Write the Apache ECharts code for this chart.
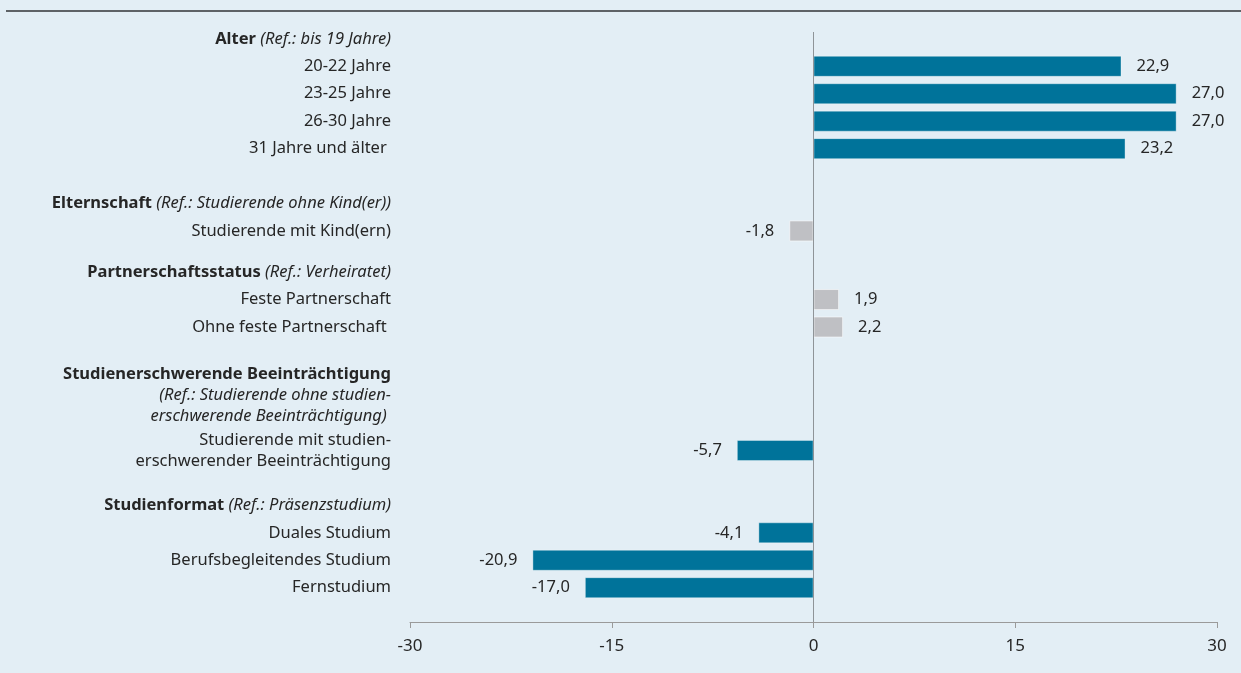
<!DOCTYPE html>
<html lang="de">
<head>
<meta charset="utf-8">
<title>Einflussfaktoren</title>
<script src="https://cdn.jsdelivr.net/npm/echarts@6/dist/echarts.min.js"></script>
<style>
  html, body { margin: 0; padding: 0; background: #e3eef5; }
  #chart { width: 1241px; height: 673px; }
</style>
</head>
<body>
<div id="chart"></div>
<script>
// Category rows of the y axis (top to bottom); empty entries are spacer rows.
const categories = [
  'Alter', '', '20-22 Jahre', '', '23-25 Jahre', '', '26-30 Jahre', '', '31 Jahre und älter ', '', '', '',
  'Elternschaft', '', 'Studierende mit Kind(ern)', '', '',
  'Partnerschaftsstatus', '', 'Feste Partnerschaft', '', 'Ohne feste Partnerschaft ', '', '', '', '',
  'Studienerschwerende Beeinträchtigung', '', '', '', 'Studierende mit studien-\nerschwerender Beeinträchtigung', '', '', '',
  'Studienformat', '', 'Duales Studium', '', 'Berufsbegleitendes Studium', '', 'Fernstudium', '', ''
];

// Group headings and their reference categories
const groupTitles = ['Alter', 'Elternschaft', 'Partnerschaftsstatus', 'Studienerschwerende Beeinträchtigung', 'Studienformat'];
const groupRefs = [
  '(Ref.: bis 19 Jahre)',
  '(Ref.: Studierende ohne Kind(er))',
  '(Ref.: Verheiratet)',
  '(Ref.: Studierende ohne studien-\nerschwerende Beeinträchtigung) ',
  '(Ref.: Präsenzstudium)'
];

// Effects per item
const itemLabels = [
  '20-22 Jahre', '23-25 Jahre', '26-30 Jahre', '31 Jahre und älter ',
  'Studierende mit Kind(ern)',
  'Feste Partnerschaft', 'Ohne feste Partnerschaft ',
  'Studierende mit studien-\nerschwerender Beeinträchtigung',
  'Duales Studium', 'Berufsbegleitendes Studium', 'Fernstudium'
];
const itemValues = [22.9, 27.0, 27.0, 23.2, -1.8, 1.9, 2.2, -5.7, -4.1, -20.9, -17.0];
const itemSignificant = [true, true, true, true, false, false, false, true, true, true, true];

// x axis ticks
const xMin = -30, xMax = 30, xStep = 15;

const BLUE = '#00739a';
const GREY = '#bfc0c4';
const INK = '#262626';
const FONT = 'Noto Sans';
const FS = 16.5;

const fmt = v => v.toFixed(1).replace('.', ',');

const barData = categories.map(c => {
  const k = itemLabels.indexOf(c);
  if (c === '' || k < 0) return null;
  const v = itemValues[k];
  const sig = itemSignificant[k];
  return {
    value: v,
    itemStyle: {
      color: sig ? BLUE : GREY,
      borderColor: sig ? 'rgba(255,255,255,0.35)' : 'rgba(255,255,255,0.55)',
      borderWidth: 1
    },
    label: { position: v < 0 ? 'left' : 'right' }
  };
});

const chart = echarts.init(document.getElementById('chart'), null, { renderer: 'canvas' });

chart.setOption({
  backgroundColor: '#e3eef5',
  animation: false,
  textStyle: { fontFamily: FONT },
  graphic: [{
    type: 'line',
    shape: { x1: 6, y1: 11, x2: 1241, y2: 11 },
    style: { stroke: '#5e6266', lineWidth: 2 }
  }],
  grid: { left: 410, right: 24, top: 32, bottom: 51, containLabel: false },
  xAxis: {
    type: 'value',
    min: xMin, max: xMax, interval: xStep,
    axisLine: { show: true, lineStyle: { color: '#9a9a9a', width: 1 } },
    axisTick: { show: true, length: 6, lineStyle: { color: '#9a9a9a' } },
    splitLine: { show: false },
    axisLabel: { color: INK, fontSize: 17, margin: 16, fontFamily: FONT }
  },
  yAxis: {
    type: 'category',
    inverse: true,
    data: categories,
    axisLine: { show: false, onZero: false },
    axisTick: { show: false },
    axisLabel: {
      interval: 0,
      margin: 19,
      color: INK,
      fontSize: FS,
      lineHeight: 21,
      fontFamily: FONT,
      formatter: function (v) {
        const g = groupTitles.indexOf(v);
        if (g < 0) return v;
        const refLines = groupRefs[g].split('\n');
        if (refLines.length > 1) {
          return '{b|' + v + '}\n' + refLines.map(l => '{i|' + l + '}').join('\n');
        }
        return '{b|' + v + '} {i|' + groupRefs[g] + '}';
      },
      rich: {
        b: { fontWeight: 'bold', fontSize: FS, color: INK, lineHeight: 21, fontFamily: FONT },
        i: { fontStyle: 'italic', fontSize: FS, color: INK, lineHeight: 21, fontFamily: FONT }
      }
    }
  },
  series: [{
    type: 'bar',
    data: barData,
    barWidth: 21,
    label: {
      show: true,
      distance: 15,
      color: INK,
      fontSize: FS,
      fontFamily: FONT,
      formatter: p => fmt(p.value)
    },
    markLine: {
      silent: true,
      symbol: 'none',
      label: { show: false },
      lineStyle: { color: '#8f9498', width: 1, type: 'solid' },
      data: [{ xAxis: 0 }]
    }
  }]
});
</script>
</body>
</html>
